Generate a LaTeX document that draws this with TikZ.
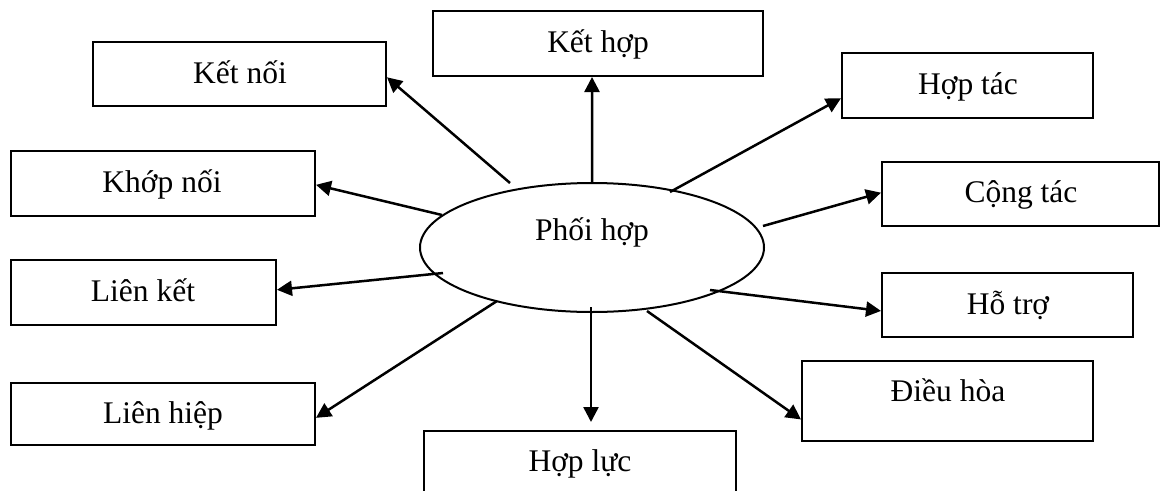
\documentclass[tikz,border=0pt]{standalone}
\usepackage{fontspec}
\setmainfont{Liberation Serif}
\usetikzlibrary{shapes.geometric,arrows.meta,calc}
\begin{document}
\begin{tikzpicture}[x=1pt,y=-1pt,
  box/.style={draw,line width=2pt,rectangle,inner sep=0pt},
  txt/.style={anchor=base,inner sep=0pt,font=\fontsize{31.5}{36}\selectfont},
  arr/.style={line width=2.5pt,-{Triangle[length=15pt,width=15pt]}}]
\useasboundingbox (0,0) rectangle (1164,490);
% boxes
\node[box,minimum width=293pt,minimum height=64pt] (ketnoi) at (239.5,74) {};
\node[box,minimum width=304pt,minimum height=65pt] (khopnoi) at (163,183.5) {};
\node[box,minimum width=330pt,minimum height=65pt] (kethop) at (598,43.5) {};
\node[box,minimum width=251pt,minimum height=65pt] (hoptac) at (967.5,85.5) {};
\node[box,minimum width=277pt,minimum height=64pt] (congtac) at (1020.5,194) {};
\node[box,minimum width=265pt,minimum height=65pt] (lienket) at (143.5,292.5) {};
\node[box,minimum width=304pt,minimum height=62pt] (lienhiep) at (163,414) {};
\node[box,minimum width=312pt,minimum height=72pt] (hopluc) at (580,467) {};
\node[box,minimum width=251pt,minimum height=64pt] (hotro) at (1007.5,305) {};
\node[box,minimum width=291pt,minimum height=80pt] (dieuhoa) at (947.5,401) {};
\node[draw,ellipse,line width=2pt,inner sep=0pt,minimum width=344pt,minimum height=129pt] (phoi) at (592,247.5) {};
% labels
\node[txt] (tketnoi) at (240,83) {Kết nối};
\node[txt] (tkhopnoi) at (162,192) {Khớp nối};
\node[txt] (tkethop) at (598,52) {Kết hợp};
\node[txt] (thoptac) at (968,94) {Hợp tác};
\node[txt] (tcongtac) at (1021,202) {Cộng tác};
\node[txt] (tlienket) at (143,301) {Liên kết};
\node[txt] (tlienhiep) at (163,423) {Liên hiệp};
\node[txt] (thopluc) at (580,471) {Hợp lực};
\node[txt] (thotro) at (1008,314) {Hỗ trợ};
\node[txt] (tdieuhoa) at (948,401) {Điều hòa};
\node[txt] (tphoi) at (592,240) {Phối hợp};
% start points
\coordinate (s1) at ($(phoi.center)+(-82,-64.5)$);
\coordinate (s2) at ($(phoi.center)+(0,-64.5)$);
\coordinate (s3) at ($(phoi.center)+(78,-55.5)$);
\coordinate (s4) at ($(phoi.center)+(-150,-32.5)$);
\coordinate (s5) at ($(phoi.center)+(171,-21.5)$);
\coordinate (s6) at ($(phoi.center)+(-149,25.5)$);
\coordinate (s7) at ($(phoi.center)+(118,42.5)$);
\coordinate (s8) at ($(phoi.center)+(-95,53.5)$);
\coordinate (s9) at ($(phoi.center)+(-1,59.5)$);
\coordinate (s10) at ($(phoi.center)+(55,63.5)$);
% arrows
\draw[arr] (s1) -- ($(ketnoi.north east)!0.55!(ketnoi.south east)$);
\draw[arr] (s2) -- ($(kethop.south west)!0.482!(kethop.south east)$);
\draw[arr] (s3) -- ($(hoptac.north west)!0.69!(hoptac.south west)$);
\draw[arr] (s4) -- ($(khopnoi.north east)!0.52!(khopnoi.south east)$);
\draw[arr] (s5) -- ($(congtac.north west)!0.48!(congtac.south west)$);
\draw[arr] (s6) -- ($(lienket.north east)!0.46!(lienket.south east)$);
\draw[arr] (s7) -- ($(hotro.north west)!0.59!(hotro.south west)$);
\draw[arr] (s8) -- ($(lienhiep.north east)!0.56!(lienhiep.south east)$);
\draw[arr] (s9) -- ($(hopluc.north)+(11,-8)$);
\draw[arr] (s10) -- ($(dieuhoa.north west)!0.725!(dieuhoa.south west)$);
\end{tikzpicture}
\end{document}
